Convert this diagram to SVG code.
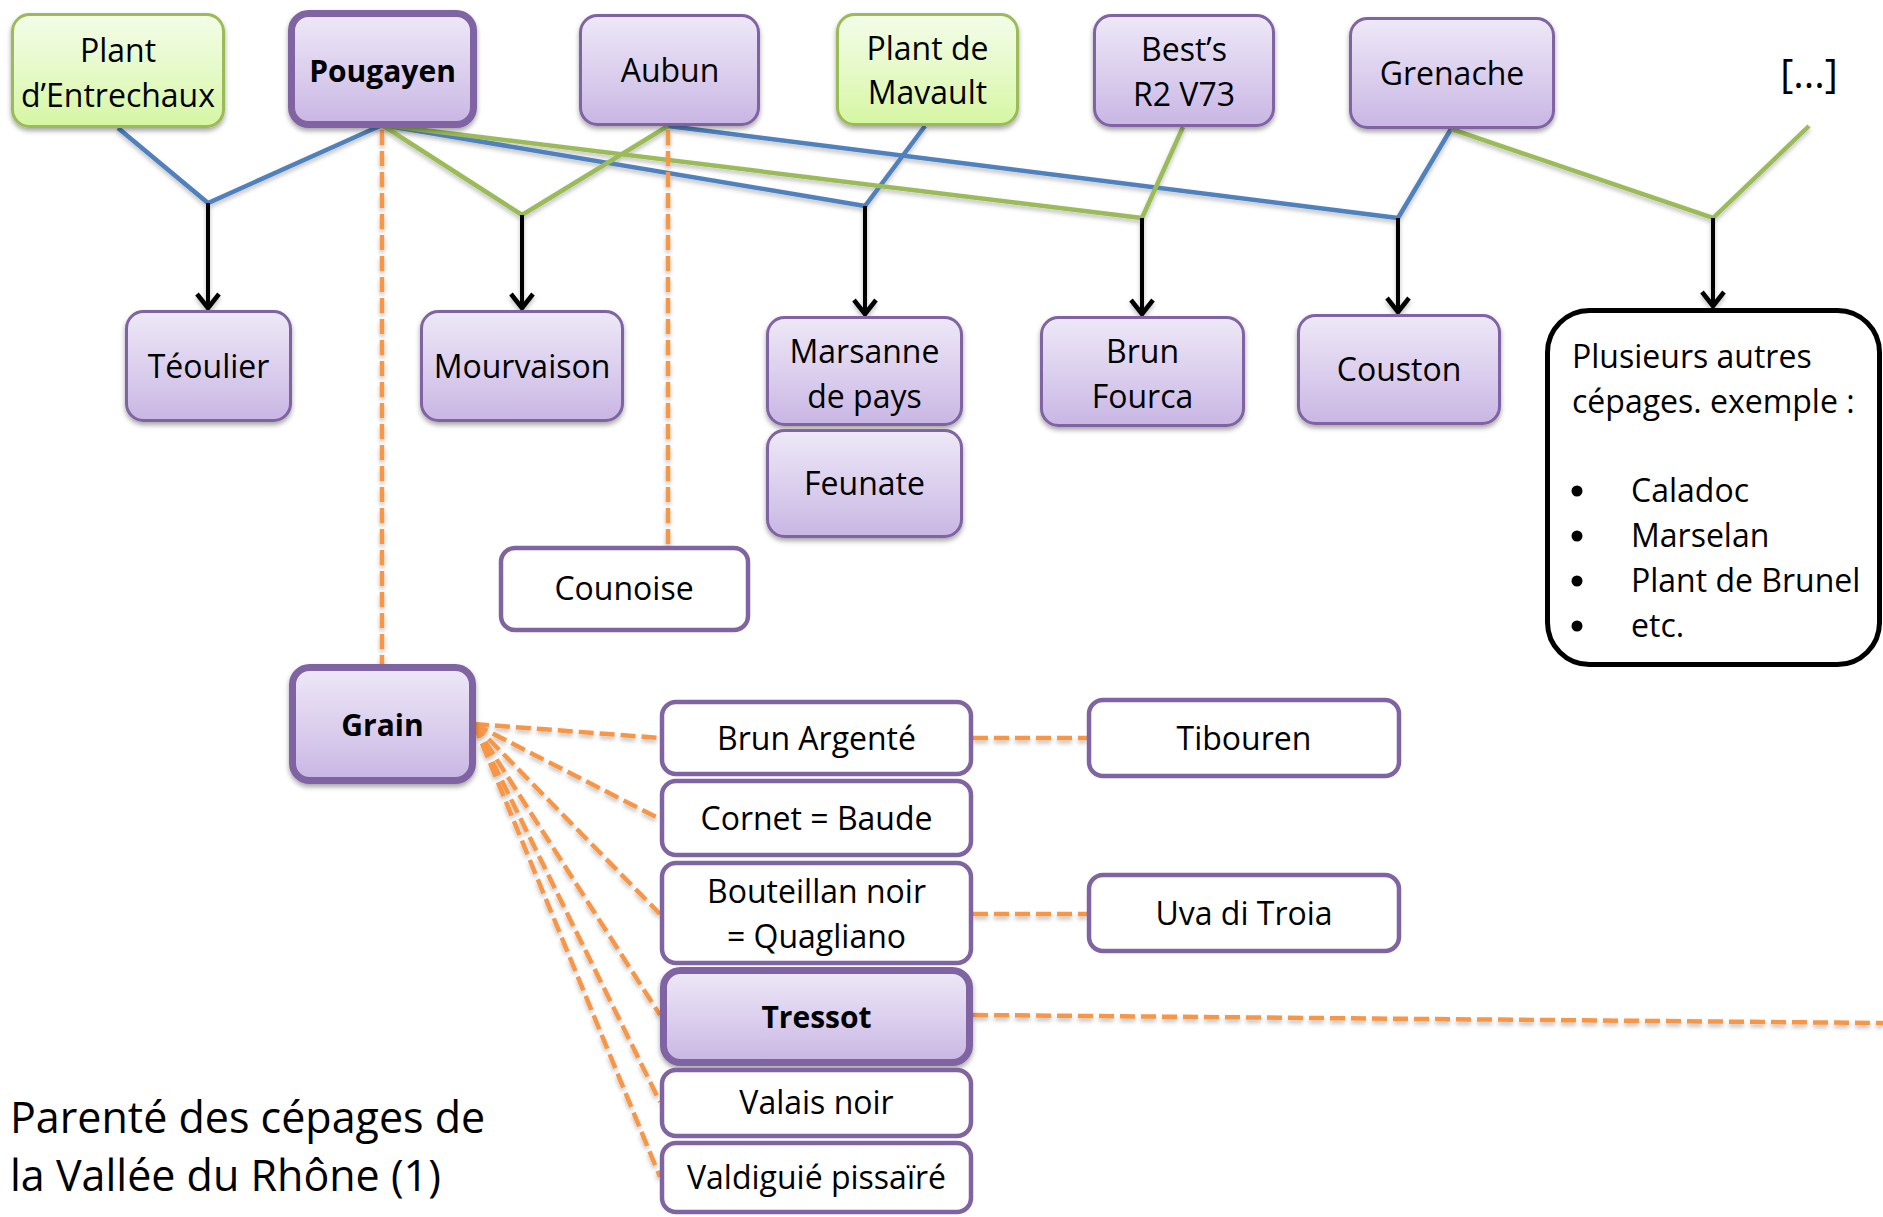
<svg xmlns="http://www.w3.org/2000/svg" width="1883" height="1217" viewBox="0 0 1883 1217">
<defs>
  <linearGradient id="gP" x1="0" y1="0" x2="0" y2="1">
    <stop offset="0" stop-color="#EEE8F7"/>
    <stop offset="0.5" stop-color="#DCD0EE"/>
    <stop offset="1" stop-color="#C9B6E4"/>
  </linearGradient>
  <linearGradient id="gG" x1="0" y1="0" x2="0" y2="1">
    <stop offset="0" stop-color="#F3FCE8"/>
    <stop offset="0.5" stop-color="#E6FAC9"/>
    <stop offset="1" stop-color="#D5F6A2"/>
  </linearGradient>
  <filter id="sh" x="-10%" y="-10%" width="120%" height="130%">
    <feDropShadow dx="0" dy="3" stdDeviation="2.5" flood-color="#000" flood-opacity="0.35"/>
  </filter>
  <filter id="shl" x="-5%" y="-5%" width="110%" height="110%">
    <feDropShadow dx="0" dy="3" stdDeviation="2" flood-color="#000" flood-opacity="0.25"/>
  </filter>
  <marker id="arr" markerUnits="userSpaceOnUse" viewBox="-20 -14 24 28" markerWidth="24" markerHeight="28" refX="0" refY="0" orient="auto">
    <path d="M-15,-11 L-1,0 L-15,11" fill="none" stroke="#000" stroke-width="4.5" stroke-linejoin="miter"/>
  </marker>
  <style>
    text { font-family: "Open Sans", "DejaVu Sans", sans-serif; fill: #000; }
    .t { font-size: 32px; text-anchor: middle; }
    .tb { font-size: 30px; font-weight: bold; text-anchor: middle; }
    .p { fill: url(#gP); stroke: #8064A2; stroke-width: 3; filter: url(#sh); }
    .pb { fill: url(#gP); stroke: #8064A2; stroke-width: 7; filter: url(#sh); }
    .g { fill: url(#gG); stroke: #9BBB59; stroke-width: 3; filter: url(#sh); }
    .w { fill: #fff; stroke: #8064A2; stroke-width: 4.5; }
    .blue { fill: none; stroke: #4F81BD; stroke-width: 4.5; }
    .green { fill: none; stroke: #9BBB59; stroke-width: 4.5; }
    .arrow { fill: none; stroke: #000; stroke-width: 4; marker-end: url(#arr); }
    .dash { fill: none; stroke: #F79646; stroke-width: 4.5; stroke-dasharray: 15 6; }
  </style>
</defs>
<rect width="1883" height="1217" fill="#fff"/>

<g id="connectors" filter="url(#shl)">
  <polyline class="blue" points="118,128 208,203 382,125"/>
  <polyline class="blue" points="382,125 865,206 925,126"/>
  <polyline class="blue" points="668,126 1398,218 1451,129"/>
  <polyline class="green" points="382,125 522,215 668,126"/>
  <polyline class="green" points="382,125 1142,218 1183,127"/>
  <polyline class="green" points="1451,129 1713,218 1809,126"/>
  <line class="arrow" x1="208" y1="203" x2="208" y2="309"/>
  <line class="arrow" x1="522" y1="215" x2="522" y2="309"/>
  <line class="arrow" x1="865" y1="206" x2="865" y2="315"/>
  <line class="arrow" x1="1142" y1="218" x2="1142" y2="315"/>
  <line class="arrow" x1="1398" y1="218" x2="1398" y2="313"/>
  <line class="arrow" x1="1713" y1="218" x2="1713" y2="307"/>
  <line class="dash" x1="382" y1="130" x2="382" y2="665"/>
  <line class="dash" x1="668" y1="130" x2="668" y2="545"/>
  <line class="dash" x1="474" y1="724" x2="660" y2="738"/>
  <line class="dash" x1="474" y1="724" x2="660" y2="819"/>
  <line class="dash" x1="474" y1="724" x2="660" y2="914"/>
  <line class="dash" x1="474" y1="724" x2="660" y2="1015"/>
  <line class="dash" x1="474" y1="724" x2="660" y2="1102"/>
  <line class="dash" x1="474" y1="724" x2="660" y2="1177"/>
  <line class="dash" x1="973" y1="738" x2="1087" y2="738"/>
  <line class="dash" x1="973" y1="914" x2="1087" y2="914"/>
  <line class="dash" x1="973" y1="1015" x2="1883" y2="1023"/>
</g>

<g id="plant-entrechaux">
  <rect class="g" x="12.5" y="14.5" width="211" height="112" rx="17"/>
  <text class="t" x="118" y="62">Plant</text>
  <text class="t" x="118" y="107">d’Entrechaux</text>
</g>
<g id="pougayen">
  <rect class="pb" x="291.5" y="13.5" width="182" height="111" rx="17"/>
  <text class="tb" x="382.5" y="82">Pougayen</text>
</g>
<g id="aubun">
  <rect class="p" x="580.5" y="15.5" width="178" height="109" rx="17"/>
  <text class="t" x="670" y="82">Aubun</text>
</g>
<g id="plant-mavault">
  <rect class="g" x="837.5" y="14.5" width="180" height="110" rx="17"/>
  <text class="t" x="927.5" y="60">Plant de</text>
  <text class="t" x="927.5" y="104">Mavault</text>
</g>
<g id="bests">
  <rect class="p" x="1094.5" y="15.5" width="179" height="110" rx="17"/>
  <text class="t" x="1184" y="61">Best’s</text>
  <text class="t" x="1184" y="106">R2 V73</text>
</g>
<g id="grenache">
  <rect class="p" x="1350.5" y="18.5" width="203" height="109" rx="17"/>
  <text class="t" x="1452" y="85">Grenache</text>
</g>
<g id="autres-parents">
  <text x="1809" y="88" style="font-size:40px; text-anchor:middle;">[...]</text>
</g>

<g id="teoulier">
  <rect class="p" x="126.5" y="311.5" width="164" height="109" rx="17"/>
  <text class="t" x="208.5" y="378">Téoulier</text>
</g>
<g id="mourvaison">
  <rect class="p" x="421.5" y="311.5" width="201" height="109" rx="17"/>
  <text class="t" x="522" y="378">Mourvaison</text>
</g>
<g id="marsanne">
  <rect class="p" x="767.5" y="317.5" width="194" height="107" rx="17"/>
  <text class="t" x="864.5" y="363">Marsanne</text>
  <text class="t" x="864.5" y="408">de pays</text>
</g>
<g id="feunate">
  <rect class="p" x="767.5" y="430.5" width="194" height="106" rx="17"/>
  <text class="t" x="864.5" y="495">Feunate</text>
</g>
<g id="brun-fourca">
  <rect class="p" x="1041.5" y="317.5" width="202" height="108" rx="17"/>
  <text class="t" x="1142.5" y="363">Brun</text>
  <text class="t" x="1142.5" y="408">Fourca</text>
</g>
<g id="couston">
  <rect class="p" x="1298.5" y="315.5" width="201" height="108" rx="17"/>
  <text class="t" x="1399" y="381">Couston</text>
</g>
<g id="plusieurs">
  <rect x="1547.5" y="310.5" width="332" height="354" rx="42" fill="#fff" stroke="#000" stroke-width="5"/>
  <text x="1572" y="368" style="font-size:32px">Plusieurs autres</text>
  <text x="1572" y="413" style="font-size:32px">cépages. exemple :</text>
  <circle cx="1577" cy="491" r="5.5"/>
  <circle cx="1577" cy="536" r="5.5"/>
  <circle cx="1577" cy="581" r="5.5"/>
  <circle cx="1577" cy="626" r="5.5"/>
  <text x="1631" y="502" style="font-size:32px">Caladoc</text>
  <text x="1631" y="547" style="font-size:32px">Marselan</text>
  <text x="1631" y="592" style="font-size:32px">Plant de Brunel</text>
  <text x="1631" y="637" style="font-size:32px">etc.</text>
</g>
<g id="counoise">
  <rect class="w" x="501" y="548" width="247" height="82" rx="14"/>
  <text class="t" x="624" y="600">Counoise</text>
</g>

<g id="grain">
  <rect class="pb" x="292.5" y="667.5" width="180" height="113" rx="17"/>
  <text class="tb" x="382.5" y="736">Grain</text>
</g>
<g id="brun-argente">
  <rect class="w" x="662" y="702" width="309" height="72" rx="14"/>
  <text class="t" x="816.5" y="750">Brun Argenté</text>
</g>
<g id="cornet">
  <rect class="w" x="662" y="781" width="309" height="74" rx="14"/>
  <text class="t" x="816.5" y="830">Cornet = Baude</text>
</g>
<g id="bouteillan">
  <rect class="w" x="662" y="863" width="309" height="100" rx="14"/>
  <text class="t" x="816.5" y="903">Bouteillan noir</text>
  <text class="t" x="816.5" y="948">= Quagliano</text>
</g>
<g id="tressot">
  <rect class="pb" x="663.5" y="970.5" width="306" height="92" rx="17"/>
  <text class="tb" x="816.5" y="1028">Tressot</text>
</g>
<g id="valais">
  <rect class="w" x="662" y="1070" width="309" height="66" rx="14"/>
  <text class="t" x="816.5" y="1114">Valais noir</text>
</g>
<g id="valdiguie">
  <rect class="w" x="662" y="1143" width="309" height="69" rx="14"/>
  <text class="t" x="816.5" y="1189">Valdiguié pissaïré</text>
</g>
<g id="tibouren">
  <rect class="w" x="1089" y="700" width="310" height="76" rx="14"/>
  <text class="t" x="1244" y="750">Tibouren</text>
</g>
<g id="uva">
  <rect class="w" x="1089" y="875" width="310" height="76" rx="14"/>
  <text class="t" x="1244" y="925">Uva di Troia</text>
</g>

<g id="title">
  <text x="10" y="1133" style="font-size:43px">Parenté des cépages de</text>
  <text x="10" y="1191" style="font-size:43px">la Vallée du Rhône (1)</text>
</g>
</svg>
